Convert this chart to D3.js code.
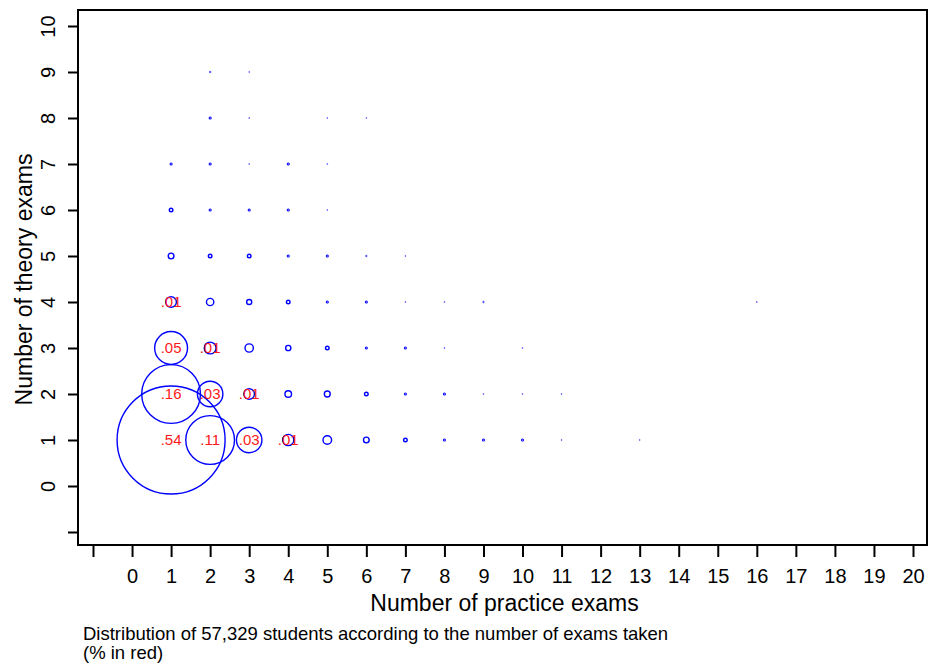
<!DOCTYPE html>
<html>
<head>
<meta charset="utf-8">
<script src="https://cdn.jsdelivr.net/npm/d3@7"></script>
<style>
  html, body { margin: 0; padding: 0; background: #fff; }
  svg { display: block; font-family: Arial, "Liberation Sans", sans-serif; }
</style>
</head>
<body>
<div id="chart"></div>
<script>
// number of practice exams / number of theory exams / share of students
const practice = [
  1, 2, 3, 4, 5, 6, 7, 8, 9, 10, 11, 13,
  1, 2, 3, 4, 5, 6, 7, 8, 9, 10, 11,
  1, 2, 3, 4, 5, 6, 7, 8, 10,
  1, 2, 3, 4, 5, 6, 7, 8, 9, 16,
  1, 2, 3, 4, 5, 6, 7,
  1, 2, 3, 4, 5,
  1, 2, 3, 4, 5,
  2, 3, 5, 6,
  2, 3
];
const theory = [
  1, 1, 1, 1, 1, 1, 1, 1, 1, 1, 1, 1,
  2, 2, 2, 2, 2, 2, 2, 2, 2, 2, 2,
  3, 3, 3, 3, 3, 3, 3, 3, 3,
  4, 4, 4, 4, 4, 4, 4, 4, 4, 4,
  5, 5, 5, 5, 5, 5, 5,
  6, 6, 6, 6, 6,
  7, 7, 7, 7, 7,
  8, 8, 8, 8,
  9, 9
];
const share = [
  .54, .11, .03, .0058, .0034, .0015, .0006, .0002, .0002, .0002, .00005, .00005,
  .16, .03, .0052, .002, .0016, .0006, .0002, .0002, .00005, .00005, .00005,
  .05, .0065, .0032, .0013, .0006, .0002, .0002, .00005, .00005,
  .0052, .0025, .0012, .0006, .0002, .0002, .00005, .00005, .0001, .00005,
  .0015, .0006, .0006, .0002, .0002, .0001, .00005,
  .0006, .0002, .0002, .0002, .00005,
  .0002, .0002, .00005, .0002, .00005,
  .0002, .00005, .00005, .00005,
  .0001, .00005
];

const practiceTicks = [-1, 0, 1, 2, 3, 4, 5, 6, 7, 8, 9, 10, 11, 12, 13, 14, 15, 16, 17, 18, 19, 20];
const theoryTicks = [-1, 0, 1, 2, 3, 4, 5, 6, 7, 8, 9, 10];

const xTitle = "Number of practice exams";
const yTitle = "Number of theory exams";
const note = ["Distribution of 57,329 students according to the number of exams taken", "(% in red)"];

const width = 932, height = 667;
const frame = { left: 78, top: 10, right: 927, bottom: 545 };

const svg = d3.select("#chart").append("svg")
  .attr("width", width)
  .attr("height", height);

const x = d3.scaleLinear().domain([-1, 20]).range([93, 913]);
const y = d3.scaleLinear().domain([-1, 10]).range([532, 26]);
const r = d3.scaleSqrt().domain([0, 0.54]).range([0, 54]);

// plot region border
svg.append("rect")
  .attr("x", frame.left).attr("y", frame.top)
  .attr("width", frame.right - frame.left)
  .attr("height", frame.bottom - frame.top)
  .attr("fill", "none")
  .attr("stroke", "#000")
  .attr("stroke-width", 2);

// x axis
const gx = svg.append("g")
  .attr("transform", `translate(0,${frame.bottom})`)
  .call(d3.axisBottom(x).tickValues(practiceTicks).tickSize(12).tickPadding(12)
    .tickFormat(d => d < 0 ? "" : d));
gx.select(".domain").remove();
gx.selectAll(".tick line").attr("stroke", "#000").attr("stroke-width", 2);
gx.selectAll(".tick text")
  .attr("fill", "#000")
  .style("font-size", "20px")
  .attr("dy", "0.71em");

// y axis, labels rotated
const gy = svg.append("g")
  .attr("transform", `translate(${frame.left},0)`)
  .call(d3.axisLeft(y).tickValues(theoryTicks).tickSize(10)
    .tickFormat(d => d < 0 ? "" : d));
gy.select(".domain").remove();
gy.selectAll(".tick line").attr("stroke", "#000").attr("stroke-width", 2);
gy.selectAll(".tick text")
  .attr("fill", "#000")
  .style("font-size", "20px")
  .attr("x", null).attr("dy", null)
  .attr("text-anchor", "middle")
  .attr("transform", "translate(-23,0) rotate(-90)");

// axis titles
svg.append("text")
  .attr("x", (frame.left + frame.right) / 2 + 2)
  .attr("y", 611)
  .attr("text-anchor", "middle")
  .style("font-size", "23px")
  .text(xTitle);

svg.append("text")
  .attr("transform", `translate(32,${(frame.top + frame.bottom) / 2 + 2}) rotate(-90)`)
  .attr("text-anchor", "middle")
  .style("font-size", "23px")
  .text(yTitle);

// bubbles
const cells = share.map((s, i) => ({ px: practice[i], ty: theory[i], s }));

svg.append("g")
  .selectAll("circle")
  .data(cells)
  .join("circle")
  .attr("cx", d => x(d.px))
  .attr("cy", d => y(d.ty))
  .attr("r", d => r(d.s))
  .attr("fill", "none")
  .attr("stroke", "#0000ff")
  .attr("stroke-width", d => Math.min(1.4, r(d.s)));

// percentage labels
const fmt = v => d3.format(".2f")(v).replace(/^0/, "");
svg.append("g")
  .selectAll("text")
  .data(cells.filter(d => d.s >= 0.005))
  .join("text")
  .attr("x", d => x(d.px))
  .attr("y", d => y(d.ty))
  .attr("dy", "0.36em")
  .attr("text-anchor", "middle")
  .attr("fill", "#ff1a1a")
  .style("font-size", "15px")
  .text(d => fmt(d.s));

// note
svg.append("g")
  .selectAll("text")
  .data(note)
  .join("text")
  .attr("x", 83)
  .attr("y", (d, i) => 640 + i * 19)
  .style("font-size", "18.5px")
  .text(d => d);
</script>
</body>
</html>
